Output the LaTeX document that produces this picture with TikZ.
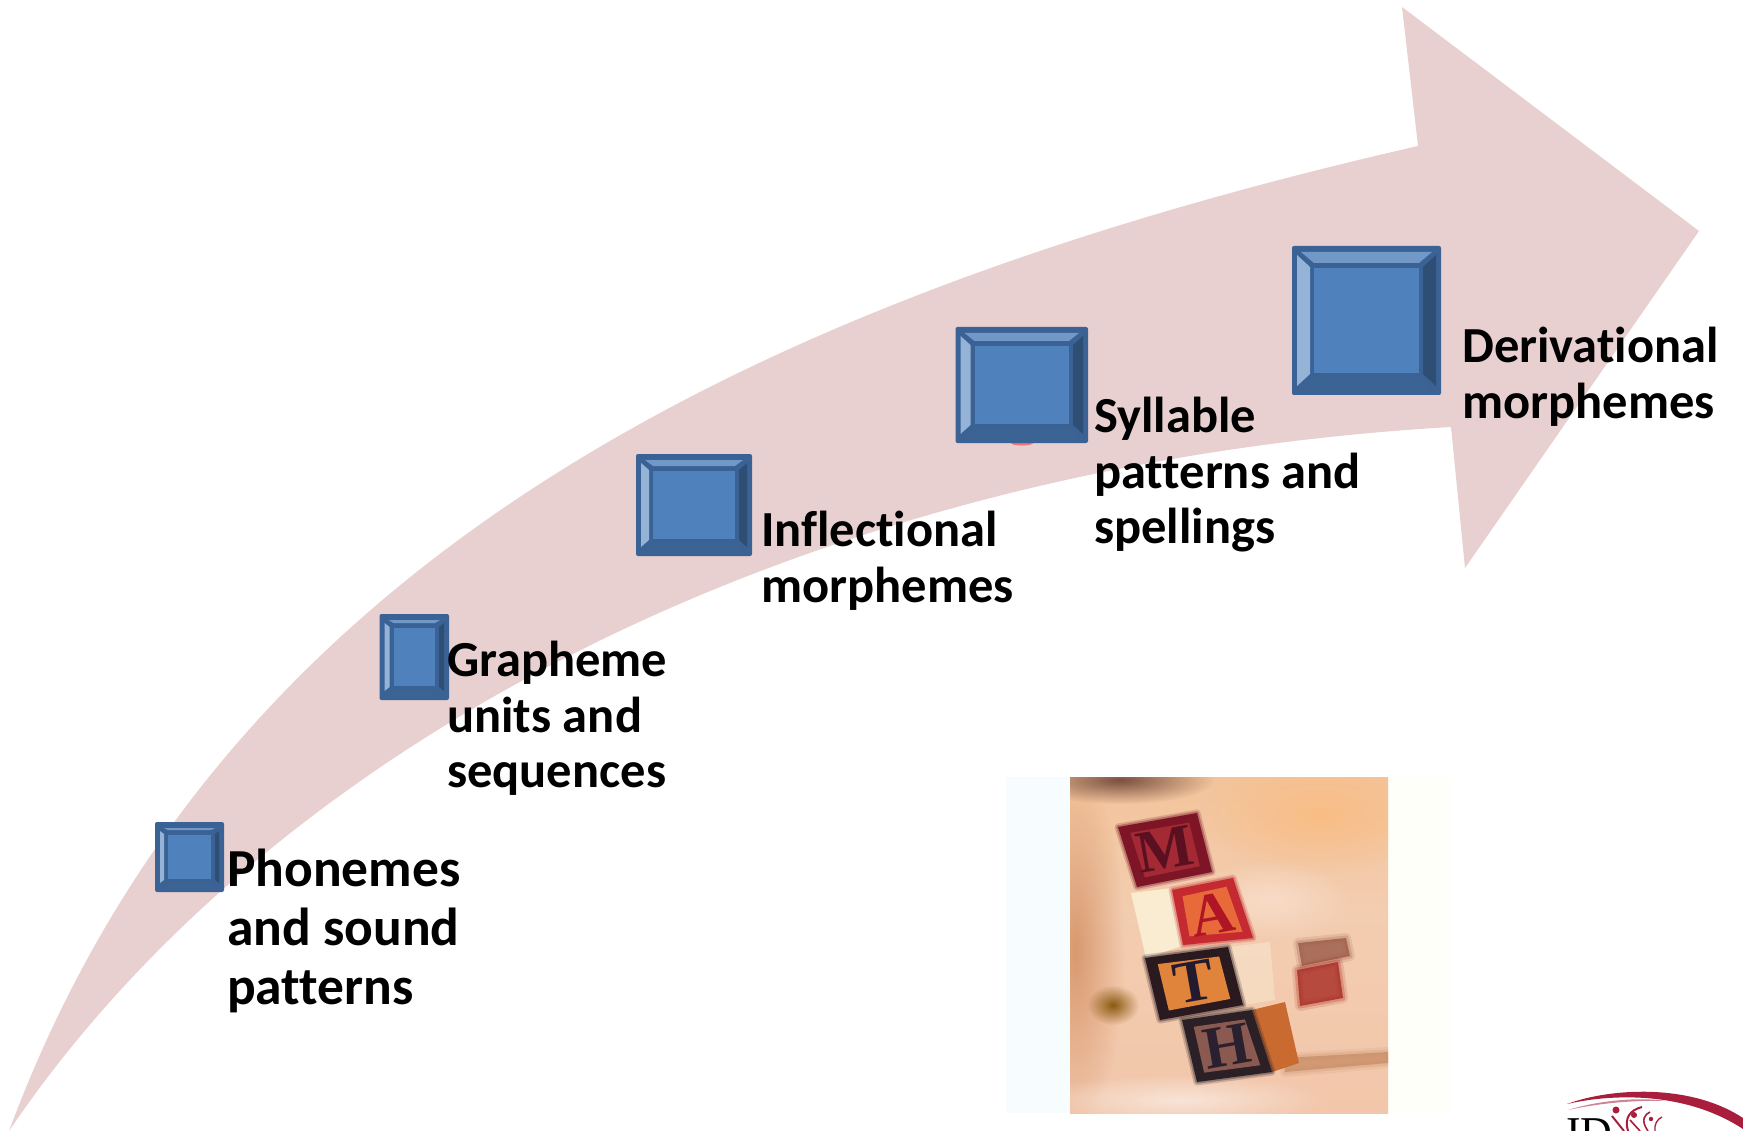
\documentclass[tikz,border=0pt]{standalone}
\usepackage{fontspec}
\setmainfont{Carlito}[Ligatures=NoCommon]
\newfontfamily\serifblock{Liberation Serif}
\usetikzlibrary{calc,fadings}
\definecolor{arrowpink}{HTML}{E8D0D0}
\definecolor{bvStroke}{HTML}{3A6294}
\definecolor{bvFace}{HTML}{4F81BD}
\definecolor{bvTop}{HTML}{7298C8}
\definecolor{bvLeft}{HTML}{95B3D7}
\definecolor{bvRight}{HTML}{2F4E74}
\definecolor{bvBottom}{HTML}{3B6394}
\definecolor{logored}{HTML}{A81E3C}
\newcommand\hx[1]{\definecolor{c#1}{HTML}{#1}}
\hx{F7D8C2}\hx{F0BFA2}\hx{F2C4A8}\hx{F3CDB0}\hx{F3BF90}\hx{E2A678}\hx{A87A60}
\hx{D8996F}\hx{F9BD85}\hx{F8DCC8}\hx{7A5040}\hx{F8E4D8}\hx{C98F68}\hx{8A5A10}
\hx{9A5A48}\hx{A82A24}\hx{FBF2D8}\hx{F8E8D0}\hx{C96A30}
\hx{7D1526}\hx{A32A35}\hx{5A1020}\hx{C42A30}\hx{E86A3A}\hx{B01525}
\hx{2A1A20}\hx{E0843C}\hx{241A30}\hx{2A2025}\hx{8A5A50}\hx{2A2030}
\pgfdeclareverticalshading{mathbg}{100bp}{
  color(0bp)=(cF7D8C2);color(8bp)=(cF0BFA2);color(16bp)=(cF2C4A8);
  color(55bp)=(cF3CDB0);color(85bp)=(cF3BF90);color(95bp)=(cE2A678);color(100bp)=(cA87A60)}
\tikzfading[name=softblob,inner color=transparent!0,outer color=transparent!100]
\tikzset{
  lbig/.style={anchor=north west,inner sep=0pt,align=left,text=black,font=\fontsize{53.5}{59}\selectfont\bfseries},
  lsmall/.style={anchor=north west,inner sep=0pt,align=left,text=black,font=\fontsize{50.5}{55.6}\selectfont\bfseries},
  blockletter/.style={inner sep=0pt,font=\serifblock\bfseries\fontsize{60}{60}\selectfont},
  soft/.style={path fading=softblob}
}
\newcommand\bevelbox[5]{%
  \fill[bvStroke,rounded corners=2pt] (#1,#2) rectangle (#3,#4);
  \fill[bvFace] ({#1+#5},{#2+#5}) rectangle ({#3-#5},{#4-#5});
  \fill[bvTop] ({#1+9},{#2+6}) -- ({#3-9},{#2+6}) -- ({#3-#5},{#2+#5-5}) -- ({#1+#5},{#2+#5-5}) -- cycle;
  \fill[bvBottom] ({#1+9},{#4-3}) -- ({#3-9},{#4-3}) -- ({#3-#5},{#4-#5+4}) -- ({#1+#5},{#4-#5+4}) -- cycle;
  \fill[bvLeft] ({#1+5},{#2+9}) -- ({#1+#5-4},{#2+#5-1}) -- ({#1+#5-4},{#4-#5+1}) -- ({#1+5},{#4-9}) -- cycle;
  \fill[bvRight] ({#3-5},{#2+9}) -- ({#3-#5+4},{#2+#5-1}) -- ({#3-#5+4},{#4-#5+1}) -- ({#3-5},{#4-9}) -- cycle;
}
% corners a b c d, frame, face, letter colour, letter, name
\newcommand\mathblock[9]{%
  \coordinate (a) at #1; \coordinate (b) at #2; \coordinate (c) at #3; \coordinate (d) at #4;
  \draw[#5,line width=7pt,opacity=.2,line join=round] (a) -- (b) -- (c) -- (d) -- cycle;
  \draw[#5,line width=3.5pt,opacity=.35,line join=round] (a) -- (b) -- (c) -- (d) -- cycle;
  \fill[#5] (a) -- (b) -- (c) -- (d) -- cycle;
  \fill[#6] ($(a)!.13!(c)$) -- ($(b)!.13!(d)$) -- ($(c)!.13!(a)$) -- ($(d)!.13!(b)$) -- cycle;
  \node[blockletter,text=#7,rotate=10] (#9) at ($(a)!.5!(c)$) {#8};
}
% soft-edged polygon: colour, path
\newcommand\softpoly[2]{%
  \draw[#1,line width=10pt,opacity=.15,line join=round] #2 -- cycle;
  \draw[#1,line width=5pt,opacity=.25,line join=round] #2 -- cycle;
  \fill[#1,opacity=.8] #2 -- cycle;
}
\begin{document}
\begin{tikzpicture}[x=1pt,y=-1pt]
\useasboundingbox (0,0) rectangle (1743,1131);
% big arrow
\fill[arrowpink] (9,1131) .. controls (210,590) and (700,310) .. (1418,146)
  -- (1402,7) -- (1699,231) -- (1465,568) -- (1451,427)
  .. controls (800,465) and (270,745) .. (9,1131) -- cycle;
% boxes
\fill[red!45!arrowpink] (1022,443) ellipse (11pt and 2.5pt);
\bevelbox{155}{822}{224}{892}{13}
\bevelbox{379.5}{614}{449}{700}{14}
\bevelbox{636}{454}{752}{556}{17}
\bevelbox{955.5}{327}{1088}{443}{19}
\bevelbox{1292}{246}{1441}{395}{22}
% labels
\node[lbig] (phonemes) at (227,849) {Phonemes\\and sound\\patterns};
\node[lsmall] (grapheme) at (447,641) {Grapheme\\units and\\sequences};
\node[lsmall] (inflectional) at (761,511) {Inflectional\\morphemes};
\node[lsmall] (syllable) at (1094,397) {Syllable\\patterns and\\spellings};
\node[lsmall] (derivational) at (1462,327) {Derivational\\morphemes};
% picture
\fill[white!97!cyan] (1006,777) rectangle (1070,1113);
\fill[white!98!yellow] (1388,777) rectangle (1450,1113);
\begin{scope}
\clip (1070,777) rectangle (1388,1113);
\shade[shading=mathbg] (1070,777) rectangle (1388,1113);
\fill[soft,cD8996F] (1075,950) ellipse (50pt and 180pt);
\fill[soft,cF9BD85] (1320,815) ellipse (120pt and 60pt);
\fill[soft,cF8DCC8] (1270,900) ellipse (80pt and 40pt);
\fill[soft,c7A5040] (1120,780) ellipse (95pt and 24pt);
\fill[soft,cF8E4D8] (1180,1100) ellipse (150pt and 26pt);
\fill[soft,c8A5A10] (1113,1005) ellipse (26pt and 20pt);
\softpoly{cC98F68}{(1285,1058) -- (1388,1052) -- (1388,1063) -- (1285,1072)}
\softpoly{c9A5A48}{(1298,943) -- (1346,938) -- (1350,956) -- (1302,966)}
\softpoly{cA82A24}{(1297,970) -- (1338,962) -- (1343,998) -- (1300,1006)}
\fill[cFBF2D8,opacity=.85] (1131,893) -- (1172,888) -- (1185,945) -- (1146,958) -- cycle;
\fill[cF8E8D0,opacity=.55] (1228,947) -- (1270,942) -- (1275,1000) -- (1243,1005) -- cycle;
\fill[cC96A30] (1252,1010) -- (1285,1002) -- (1299,1063) -- (1272,1072) -- cycle;
\mathblock{(1118,827)}{(1197,813)}{(1212,872)}{(1137,887)}{c7D1526}{cA32A35}{c5A1020}{M}{letterM}
\mathblock{(1172,890)}{(1233,878)}{(1253,938)}{(1183,945)}{cC42A30}{cE86A3A}{cB01525}{A}{letterA}
\mathblock{(1145,958)}{(1228,947)}{(1243,1005)}{(1160,1020)}{c2A1A20}{cE0843C}{c241A30}{T}{letterT}
\mathblock{(1182,1020)}{(1252,1010)}{(1272,1072)}{(1197,1082)}{c2A2025}{c8A5A50}{c2A2030}{H}{letterH}
\end{scope}
% logo
\begin{scope}
\clip (1555,1085) rectangle (1743,1131);
\fill[logored] (1567,1104) .. controls (1610,1088) and (1690,1083) .. (1743,1118)
  -- (1743,1129) .. controls (1690,1094) and (1620,1092) .. (1567,1104) -- cycle;
\fill[logored!55] (1568,1110) .. controls (1600,1100) and (1640,1097) .. (1666,1101)
  .. controls (1635,1100) and (1600,1103) .. (1568,1110) -- cycle;
\node[anchor=base west,inner sep=0pt,font=\serifblock\fontsize{44}{44}\selectfont] (logoid) at (1566,1147) {ID};
\fill[logored] (1616,1110) circle (3.5pt);
\fill[logored] (1634,1115) circle (3pt);
\fill[logored] (1651,1119) circle (2.2pt);
\draw[logored,line width=2pt] (1628,1131) .. controls (1624,1118) and (1630,1110) .. (1642,1107);
\draw[logored,line width=2pt] (1612,1116) -- (1624,1131);
\draw[logored,line width=1.6pt] (1648,1131) .. controls (1640,1120) and (1645,1114) .. (1650,1112);
\draw[logored,line width=1.6pt] (1630,1120) -- (1640,1131);
\draw[logored,line width=1.3pt] (1655,1131) .. controls (1654,1125) and (1657,1119) .. (1662,1117);
\end{scope}
\end{tikzpicture}
\end{document}
